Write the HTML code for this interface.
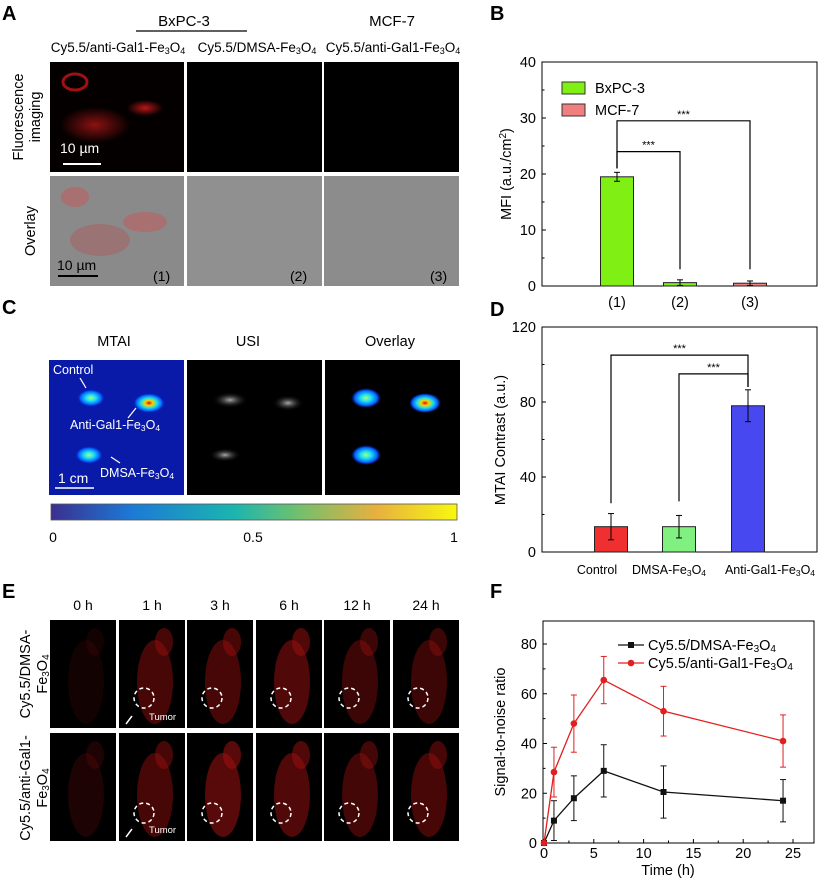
<!DOCTYPE html>
<html><head><meta charset="utf-8"><style>
html,body{margin:0;padding:0;background:#fff}
svg{display:block;font-family:"Liberation Sans",Arial,sans-serif}
</style></head><body>
<svg id="fig" width="825" height="882" viewBox="0 0 825 882" xmlns="http://www.w3.org/2000/svg">
<defs>
<radialGradient id="hot" cx="50%" cy="50%" r="50%"><stop offset="0" stop-color="#d01010"/><stop offset="0.25" stop-color="#ffd000"/><stop offset="0.5" stop-color="#20e0e0"/><stop offset="0.8" stop-color="#0060ff"/><stop offset="1" stop-color="#0010c0" stop-opacity="0"/></radialGradient>
<radialGradient id="warm" cx="50%" cy="50%" r="50%"><stop offset="0" stop-color="#a0ff80"/><stop offset="0.35" stop-color="#20e0f0"/><stop offset="0.75" stop-color="#0060ff"/><stop offset="1" stop-color="#0010c0" stop-opacity="0"/></radialGradient>
<radialGradient id="gray" cx="50%" cy="50%" r="50%"><stop offset="0" stop-color="#aaa"/><stop offset="1" stop-color="#000" stop-opacity="0"/></radialGradient>
<radialGradient id="redg" cx="50%" cy="50%" r="50%"><stop offset="0" stop-color="#ff2020" stop-opacity="0.9"/><stop offset="1" stop-color="#ff2020" stop-opacity="0"/></radialGradient>
<linearGradient id="cbar" x1="0" x2="1"><stop offset="0" stop-color="#3b2f8f"/><stop offset="0.2" stop-color="#1c7ad6"/><stop offset="0.45" stop-color="#1bb5b0"/><stop offset="0.6" stop-color="#6cc070"/><stop offset="0.8" stop-color="#e7b040"/><stop offset="1" stop-color="#f8f80f"/></linearGradient>
</defs>

<!-- Panel A -->
<g>
<text x="2" y="20" font-size="20" font-weight="bold">A</text>
<text x="184" y="26" font-size="15" text-anchor="middle">BxPC-3</text>
<line x1="136" y1="31" x2="247" y2="31" stroke="#000" stroke-width="1.2"/>
<text x="392" y="26" font-size="15" text-anchor="middle">MCF-7</text>
<g font-size="13.5" text-anchor="middle">
<text x="118" y="52">Cy5.5/anti-Gal1-Fe<tspan font-size="9" dy="2">3</tspan><tspan dy="-2">O</tspan><tspan font-size="9" dy="2">4</tspan></text>
<text x="257" y="52">Cy5.5/DMSA-Fe<tspan font-size="9" dy="2">3</tspan><tspan dy="-2">O</tspan><tspan font-size="9" dy="2">4</tspan></text>
<text x="393" y="52">Cy5.5/anti-Gal1-Fe<tspan font-size="9" dy="2">3</tspan><tspan dy="-2">O</tspan><tspan font-size="9" dy="2">4</tspan></text>
</g>
<text transform="translate(23,117) rotate(-90)" font-size="14.5" text-anchor="middle">Fluorescence</text>
<text transform="translate(40,117) rotate(-90)" font-size="14.5" text-anchor="middle">imaging</text>
<text transform="translate(35,231) rotate(-90)" font-size="14.5" text-anchor="middle">Overlay</text>
<rect x="50" y="62" width="134" height="110" fill="#050000"/>
<ellipse cx="75" cy="82" rx="12" ry="8" fill="none" stroke="#a01010" stroke-width="3"/>
<ellipse cx="95" cy="125" rx="35" ry="18" fill="url(#redg)" opacity="0.6"/>
<ellipse cx="145" cy="108" rx="18" ry="8" fill="url(#redg)" opacity="0.8"/>
<line x1="63" y1="164" x2="101" y2="164" stroke="#fff" stroke-width="2"/>
<text x="60" y="153" font-size="14" fill="#fff">10 µm</text>
<rect x="187" y="62" width="135" height="110" fill="#000"/>
<rect x="324" y="62" width="135" height="110" fill="#000"/>
<rect x="50" y="176" width="134" height="110" fill="#8a8a8a"/>
<ellipse cx="75" cy="197" rx="14" ry="10" fill="#a87070"/>
<ellipse cx="145" cy="222" rx="22" ry="10" fill="#a87070"/>
<ellipse cx="100" cy="240" rx="30" ry="16" fill="#9a7474"/>
<line x1="58" y1="276" x2="98" y2="276" stroke="#000" stroke-width="2"/>
<text x="57" y="270" font-size="14">10 µm</text>
<text x="153" y="281" font-size="14">(1)</text>
<rect x="187" y="176" width="135" height="110" fill="#909090"/>
<text x="290" y="281" font-size="14">(2)</text>
<rect x="324" y="176" width="135" height="110" fill="#8c8c8c"/>
<text x="430" y="281" font-size="14">(3)</text>
</g>

<!-- Panel C -->
<g>
<text x="2" y="314" font-size="20" font-weight="bold">C</text>
<g font-size="14.5" text-anchor="middle">
<text x="114" y="346">MTAI</text>
<text x="248" y="346">USI</text>
<text x="390" y="346">Overlay</text>
</g>
<rect x="49" y="360" width="135" height="135" fill="#0a1aa8"/>
<ellipse cx="91" cy="398" rx="14" ry="9" fill="url(#warm)"/>
<ellipse cx="149" cy="403" rx="16" ry="10" fill="url(#hot)"/>
<ellipse cx="89" cy="455" rx="14" ry="9" fill="url(#warm)"/>
<text x="53" y="374" font-size="12.5" fill="#fff">Control</text>
<line x1="80" y1="378" x2="86" y2="388" stroke="#fff" stroke-width="1.2"/>
<text x="70" y="429" font-size="12.5" fill="#fff">Anti-Gal1-Fe<tspan font-size="8.5" dy="2">3</tspan><tspan dy="-2">O</tspan><tspan font-size="8.5" dy="2">4</tspan></text>
<line x1="128" y1="418" x2="136" y2="408" stroke="#fff" stroke-width="1.2"/>
<text x="100" y="477" font-size="12.5" fill="#fff">DMSA-Fe<tspan font-size="8.5" dy="2">3</tspan><tspan dy="-2">O</tspan><tspan font-size="8.5" dy="2">4</tspan></text>
<line x1="120" y1="463" x2="111" y2="457" stroke="#fff" stroke-width="1.2"/>
<line x1="55" y1="488" x2="94" y2="488" stroke="#fff" stroke-width="1.5"/>
<text x="58" y="483" font-size="14" fill="#fff">1 cm</text>
<rect x="187" y="360" width="135" height="135" fill="#000"/>
<ellipse cx="230" cy="400" rx="18" ry="8" fill="url(#gray)"/>
<ellipse cx="288" cy="403" rx="16" ry="8" fill="url(#gray)"/>
<ellipse cx="225" cy="455" rx="16" ry="7" fill="url(#gray)"/>
<rect x="325" y="360" width="135" height="135" fill="#000"/>
<ellipse cx="366" cy="398" rx="15" ry="10" fill="url(#warm)"/>
<ellipse cx="425" cy="403" rx="16" ry="10" fill="url(#hot)"/>
<ellipse cx="366" cy="455" rx="15" ry="10" fill="url(#warm)"/>
<rect x="51" y="504" width="406" height="16" fill="url(#cbar)" stroke="#555" stroke-width="0.8"/>
<g font-size="14" text-anchor="middle">
<text x="53" y="542">0</text>
<text x="253" y="542">0.5</text>
<text x="454" y="542">1</text>
</g>
</g>

<!-- Panel E -->
<g id="panelE">
<text x="2" y="598" font-size="20" font-weight="bold">E</text>
<text transform="translate(30,674) rotate(-90)" font-size="14.5" text-anchor="middle">Cy5.5/DMSA-</text>
<text transform="translate(47,674) rotate(-90)" font-size="14.5" text-anchor="middle">Fe<tspan font-size="10" dy="2">3</tspan><tspan dy="-2">O</tspan><tspan font-size="10" dy="2">4</tspan></text>
<text transform="translate(30,788) rotate(-90)" font-size="14.5" text-anchor="middle">Cy5.5/anti-Gal1-</text>
<text transform="translate(47,788) rotate(-90)" font-size="14.5" text-anchor="middle">Fe<tspan font-size="10" dy="2">3</tspan><tspan dy="-2">O</tspan><tspan font-size="10" dy="2">4</tspan></text>
</g>

<!-- Panel B -->
<g>
<text x="490" y="20" font-size="20" font-weight="bold">B</text>
<g id="chartB"></g>
</g>
<!-- Panel D -->
<g>
<text x="490" y="316" font-size="20" font-weight="bold">D</text>
<g id="chartD"></g>
</g>
<!-- Panel F -->
<g>
<text x="490" y="598" font-size="20" font-weight="bold">F</text>
<g id="chartF"></g>
</g>
</svg>
<script>
// ---- Panel B data ----
const bCategories = ["(1)", "(2)", "(3)"];
const bValues = [19.5, 0.6, 0.5];
const bErrors = [0.8, 0.5, 0.4];
const bColors = ["#7fef14", "#7fef14", "#f08080"];
const bTicks = [0, 10, 20, 30, 40];
// ---- Panel D data ----
const dCategories = ["Control", "DMSA-Fe3O4", "Anti-Gal1-Fe3O4"];
const dValues = [13.5, 13.5, 78];
const dErrors = [7, 6, 8.5];
const dColors = ["#f03030", "#80f080", "#4848f0"];
const dTicks = [0, 40, 80, 120];
// ---- Panel F data ----
const fTimes = [0, 1, 3, 6, 12, 24];
const fDmsa = [0, 9, 18, 29, 20.5, 17];
const fDmsaErr = [0, 8, 9, 10.5, 10.5, 8.5];
const fAnti = [0, 28.5, 48, 65.5, 53, 41];
const fAntiErr = [0, 10, 11.5, 9.5, 10, 10.5];
const fYTicks = [0, 20, 40, 60, 80];
const fXTicks = [0, 5, 10, 15, 20, 25];
// ---- Panel E labels ----
const eTimes = ["0 h", "1 h", "3 h", "6 h", "12 h", "24 h"];
const eIntensity = [[0.12, 0.45, 0.45, 0.5, 0.38, 0.38], [0.18, 0.45, 0.55, 0.5, 0.42, 0.45]];

const NS = "http://www.w3.org/2000/svg";
function mk(parent, tag, attrs, text) {
  const el = document.createElementNS(NS, tag);
  for (const k in attrs) el.setAttribute(k, attrs[k]);
  if (text !== undefined) el.textContent = text;
  parent.appendChild(el);
  return el;
}

// Panel E
(function(){
  const g = document.getElementById("panelE");
  const xs = [50, 119, 187, 256, 324, 393], w = 66, rows = [620, 733], h = 108;
  eTimes.forEach((t, i) => {
    const tx = mk(g, "text", {x: xs[i] + w/2, y: 610, "font-size": 14, "text-anchor": "middle"}, t);
    
    
    rows.forEach((ry, r) => {
      const rc = mk(g, "rect", {x: xs[i], y: ry, width: w, height: h, fill: "#000"});
      
      
      const op = eIntensity[r][i];
      mk(g, "ellipse", {cx: xs[i] + w/2 + 3, cy: ry + h/2 + 8, rx: 18, ry: 42, fill: "#a01010", opacity: op});
      mk(g, "ellipse", {cx: xs[i] + w/2 + 12, cy: ry + 22, rx: 9, ry: 14, fill: "#a01010", opacity: op});
      if (i > 0) {
        const cx = xs[i] + 25, cy = ry + (r === 0 ? 78 : 80);
        const c = mk(g, "circle", {cx: cx, cy: cy, r: 10, fill: "none", stroke: "#fff", "stroke-width": 1.5, "stroke-dasharray": "4 3"});
        
        
      }
      if (i === 1) {
        mk(g, "text", {x: xs[i] + 30, y: ry + 100, "font-size": 9.5, fill: "#fff"}, "Tumor");
        mk(g, "line", {x1: xs[i] + 7, y1: ry + 104, x2: xs[i] + 13, y2: ry + 96, stroke: "#fff", "stroke-width": 1.5});
      }
    });
  });
})();

function barChart(gid, cats, vals, errs, cols, ticks, cfg) {
  const g = document.getElementById(gid);
  const L = 542, R = 817, T = cfg.top, B = cfg.bottom, ymax = ticks[ticks.length-1];
  const y = v => B - (v / ymax) * (B - T);
  const x = i => cfg.centers[i];
  const frame = mk(g, "rect", {x: L, y: T, width: R-L, height: B-T, fill: "none", stroke: "#000", "stroke-width": 1});
  
  
  ticks.forEach((t, k) => {
    mk(g, "line", {x1: L, y1: y(t), x2: L+4, y2: y(t), stroke: "#000"});
    const tl = mk(g, "text", {x: L-6, y: y(t)+5, "font-size": 14.5, "text-anchor": "end"}, t);
    
    
    if (k < ticks.length-1) {
      const mid = (t + ticks[k+1]) / 2;
      mk(g, "line", {x1: L, y1: y(mid), x2: L+2.5, y2: y(mid), stroke: "#000"});
    }
  });
  vals.forEach((v, i) => {
    const bw = 33;
    const b = mk(g, "rect", {x: x(i)-bw/2, y: y(v), width: bw, height: B - y(v), fill: cols[i], stroke: "#222", "stroke-width": 1});
    
    
    mk(g, "line", {x1: x(i), y1: y(v+errs[i]), x2: x(i), y2: y(v-errs[i]), stroke: "#000"});
    mk(g, "line", {x1: x(i)-3, y1: y(v+errs[i]), x2: x(i)+3, y2: y(v+errs[i]), stroke: "#000"});
    mk(g, "line", {x1: x(i)-3, y1: y(v-errs[i]), x2: x(i)+3, y2: y(v-errs[i]), stroke: "#000"});
  });
  cfg.brackets.forEach(br => {
    const yy = y(br.level);
    const p = mk(g, "path", {d: `M${x(br.a)},${y(br.ya)} V${yy} H${x(br.b)} V${y(br.yb)}`, fill: "none", stroke: "#000", "stroke-width": 1.2});
    
    
    mk(g, "text", {x: (x(br.a)+x(br.b))/2, y: yy-3, "font-size": 11, "text-anchor": "middle"}, "***");
  });
  return {g, y, x, L, R, T, B};
}

// Panel B
(function(){
  const c = barChart("chartB", bCategories, bValues, bErrors, bColors, bTicks, {
    top: 62, bottom: 286, centers: [617, 680, 750],
    brackets: [{a:0,b:2,level:29.5,ya:21,yb:3},{a:0,b:1,level:24,ya:21,yb:3}]
  });
  bCategories.forEach((cat, i) => {
    const t = mk(c.g, "text", {x: c.x(i), y: 307, "font-size": 14.5, "text-anchor": "middle"}, cat);
    
    
  });
  const yt = mk(c.g, "text", {transform: "translate(511,174) rotate(-90)", "font-size": 14.5, "text-anchor": "middle"});
  yt.innerHTML = 'MFI (a.u./cm<tspan font-size="10" dy="-5">2</tspan><tspan dy="5">)</tspan>';
  
  
  [["BxPC-3", "#7fef14", 88], ["MCF-7", "#f08080", 110]].forEach(([lab, col, yy]) => {
    const sw = mk(c.g, "rect", {x: 562, y: yy-6, width: 23, height: 12, fill: col, stroke: "#333"});
    
    
    const lt = mk(c.g, "text", {x: 595, y: yy+5, "font-size": 14.5}, lab);
    
    
  });
})();

// Panel D
(function(){
  const c = barChart("chartD", dCategories, dValues, dErrors, dColors, dTicks, {
    top: 327, bottom: 552, centers: [611, 679, 748],
    brackets: [{a:0,b:2,level:105,ya:26,yb:88},{a:1,b:2,level:95,ya:27,yb:88}]
  });
  const labs = ['Control', 'DMSA-Fe<tspan font-size="8.5" dy="2">3</tspan><tspan dy="-2">O</tspan><tspan font-size="8.5" dy="2">4</tspan>', 'Anti-Gal1-Fe<tspan font-size="8.5" dy="2">3</tspan><tspan dy="-2">O</tspan><tspan font-size="8.5" dy="2">4</tspan>'];
  const labX = [597, 669, 770];
  labs.forEach((l, i) => {
    const t = mk(c.g, "text", {x: labX[i], y: 574, "font-size": 12.5, "text-anchor": "middle"});
    t.innerHTML = l;
    
    
  });
  const yt = mk(c.g, "text", {transform: "translate(505,440) rotate(-90)", "font-size": 14.5, "text-anchor": "middle"}, "MTAI Contrast (a.u.)");
  
  
})();

// Panel F
(function(){
  const g = document.getElementById("chartF");
  const L = 543, R = 814, T = 621, B = 843;
  const x = v => 544 + v * (793 - 544) / 25;
  const y = v => B - v * (843 - 644) / 80;
  const fr = mk(g, "rect", {x: L, y: T, width: R-L, height: B-T, fill: "none", stroke: "#000"});
  
  
  fYTicks.forEach(t => {
    mk(g, "line", {x1: L, y1: y(t), x2: L+4, y2: y(t), stroke: "#000"});
    if (y(t+10) > T + 2) mk(g, "line", {x1: L, y1: y(t+10), x2: L+2.5, y2: y(t+10), stroke: "#000"});
    const tl = mk(g, "text", {x: L-6, y: y(t)+5, "font-size": 14.5, "text-anchor": "end"}, t);
    
    
  });
  fXTicks.forEach(t => {
    mk(g, "line", {x1: x(t), y1: B, x2: x(t), y2: B-4, stroke: "#000"});
    if (x(t+2.5) < R - 2) mk(g, "line", {x1: x(t+2.5), y1: B, x2: x(t+2.5), y2: B-2.5, stroke: "#000"});
    const tl = mk(g, "text", {x: x(t), y: B+15, "font-size": 14.5, "text-anchor": "middle"}, t);
    
    
  });
  const xt = mk(g, "text", {x: 668, y: 875, "font-size": 14.5, "text-anchor": "middle"}, "Time (h)");
  
  
  const yt = mk(g, "text", {transform: "translate(505,732) rotate(-90)", "font-size": 14.5, "text-anchor": "middle"}, "Signal-to-noise ratio");
  
  
  [[fDmsa, fDmsaErr, "#111", "rect"], [fAnti, fAntiErr, "#e02020", "circle"]].forEach(([vals, errs, col, shape]) => {
    vals.forEach((v, i) => {
      if (errs[i] > 0) {
        mk(g, "line", {x1: x(fTimes[i]), y1: y(v+errs[i]), x2: x(fTimes[i]), y2: y(v-errs[i]), stroke: col});
        mk(g, "line", {x1: x(fTimes[i])-3, y1: y(v+errs[i]), x2: x(fTimes[i])+3, y2: y(v+errs[i]), stroke: col});
        mk(g, "line", {x1: x(fTimes[i])-3, y1: y(v-errs[i]), x2: x(fTimes[i])+3, y2: y(v-errs[i]), stroke: col});
      }
    });
    const pts = vals.map((v, i) => x(fTimes[i]) + "," + y(v)).join(" ");
    const pl = mk(g, "polyline", {points: pts, fill: "none", stroke: col, "stroke-width": 1.3});
    
    
    vals.forEach((v, i) => {
      let m;
      if (shape === "rect") m = mk(g, "rect", {x: x(fTimes[i])-3, y: y(v)-3, width: 6, height: 6, fill: col});
      else m = mk(g, "circle", {cx: x(fTimes[i]), cy: y(v), r: 3.3, fill: col});
      
      
    });
  });
  [["#111", "rect", 645, 'Cy5.5/DMSA-Fe<tspan font-size="10" dy="2">3</tspan><tspan dy="-2">O</tspan><tspan font-size="10" dy="2">4</tspan>'],
   ["#e02020", "circle", 663, 'Cy5.5/anti-Gal1-Fe<tspan font-size="10" dy="2">3</tspan><tspan dy="-2">O</tspan><tspan font-size="10" dy="2">4</tspan>']].forEach(([col, shape, yy, lab]) => {
    mk(g, "line", {x1: 618, y1: yy, x2: 644, y2: yy, stroke: col, "stroke-width": 1.3});
    if (shape === "rect") mk(g, "rect", {x: 628, y: yy-3, width: 6, height: 6, fill: col});
    else mk(g, "circle", {cx: 631, cy: yy, r: 3.3, fill: col});
    const t = mk(g, "text", {x: 648, y: yy+5, "font-size": 14.5});
    t.innerHTML = lab;
    
    
  });
})();
</script>
</body></html>
